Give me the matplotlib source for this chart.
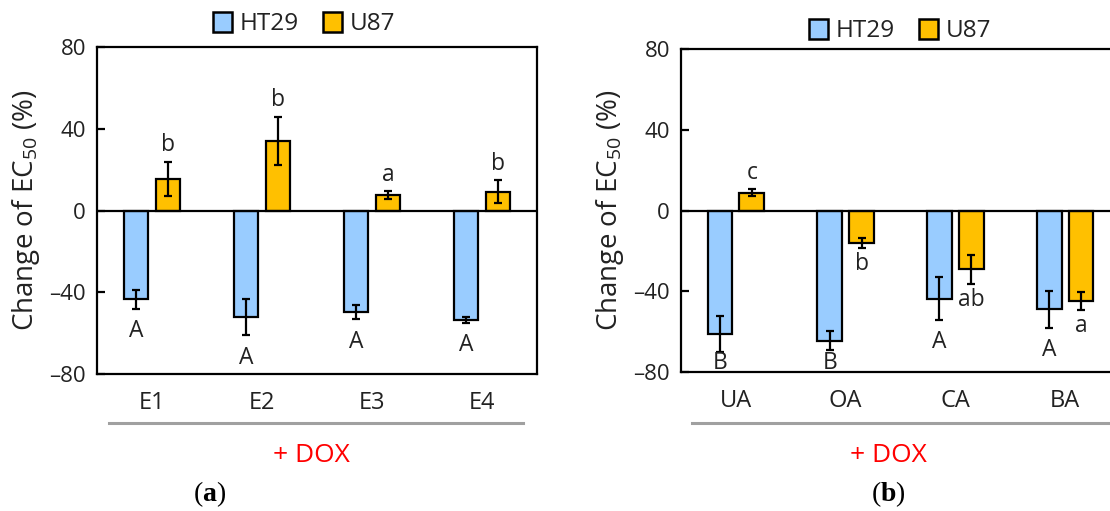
import matplotlib
matplotlib.use("Agg")
import matplotlib.pyplot as plt
import matplotlib.patches as mpatches
import numpy as np

plt.rcParams['font.family'] = ['Open Sans', 'DejaVu Sans']
plt.rcParams['mathtext.fontset'] = 'custom'
plt.rcParams['mathtext.rm'] = 'Open Sans'
plt.rcParams['mathtext.bf'] = 'Liberation Serif:bold'

# ---- data ----
cats_a = ["E1", "E2", "E3", "E4"]
ht29_a = [-43.4, -52.1, -49.7, -53.4]
ht29_a_err = [4.6, 9.0, 3.4, 1.5]
u87_a = [15.5, 34.0, 7.4, 9.2]
u87_a_err = [8.4, 11.9, 1.9, 5.6]
ht29_a_sig = ["A", "A", "A", "A"]
u87_a_sig = ["b", "b", "a", "b"]

cats_b = ["UA", "OA", "CA", "BA"]
ht29_b = [-61.4, -64.4, -43.6, -49.0]
ht29_b_err = [8.9, 4.5, 10.7, 9.1]
u87_b = [8.9, -16.0, -29.2, -44.9]
u87_b_err = [1.7, 2.6, 7.0, 4.5]
ht29_b_sig = ["B", "B", "A", "A"]
u87_b_sig = ["c", "b", "ab", "a"]

yticks = [-80, -40, 0, 40, 80]
series_names = ["HT29", "U87"]
colors = ["#99CCFF", "#FFC000"]

W, H = 1110, 511
fig = plt.figure(figsize=(W / 100, H / 100), dpi=100)
TXT = '#222222'


def px_axes(l, t, r, b):
    return fig.add_axes([l / W, 1 - b / H, (r - l) / W, (b - t) / H])


def draw_panel(ax, cats, v1, e1, v2, e2, s1, s2, right_open=False):
    x = np.arange(len(cats))
    off, wid = 0.145, 0.225
    for xs, vals, errs, col in [(x - off, v1, e1, colors[0]), (x + off, v2, e2, colors[1])]:
        ax.bar(xs, vals, width=wid, color=col, edgecolor='black', linewidth=1.6, zorder=3)
        ax.errorbar(xs, vals, yerr=errs, fmt='none', ecolor='black', elinewidth=1.6,
                    capsize=3.2, capthick=1.6, zorder=4)
    ax.axhline(0, color='black', linewidth=1.6, zorder=5)
    # significance letters
    for xs, vals, errs, sigs, dn in [(x - off, v1, e1, s1, 11.0), (x + off, v2, e2, s2, 8.0)]:
        for xi, v, e, s in zip(xs, vals, errs, sigs):
            if v >= 0:
                y = v + e + 8.0
            else:
                y = max(v - e - dn, -75.3)
            ax.text(xi, y, s, ha='center', va='center', fontsize=16.5, color=TXT, zorder=6)
    ax.set_xlim(-0.5, len(cats) - 0.5)
    ax.set_ylim(-80, 80)
    ax.set_yticks(yticks)
    ax.set_yticklabels([f"{t}".replace('-', '\u2013') for t in yticks])
    ax.set_xticks(x)
    ax.set_xticklabels(cats)
    ax.tick_params(axis='y', direction='in', length=6, width=1.6, labelsize=16,
                   pad=8, labelcolor=TXT)
    ax.tick_params(axis='x', length=0, labelsize=17, pad=12, labelcolor=TXT)
    for sp in ax.spines.values():
        sp.set_linewidth(1.6)
    if right_open:
        ax.spines['right'].set_visible(False)
    ax.set_ylabel(r"Change of EC$_{\mathrm{50}}$ (%)", fontsize=20, color=TXT, labelpad=5)


ax1 = px_axes(97, 47, 537, 374)
draw_panel(ax1, cats_a, ht29_a, ht29_a_err, u87_a, u87_a_err, ht29_a_sig, u87_a_sig)
ax2 = px_axes(681, 49, 1120, 372)
draw_panel(ax2, cats_b, ht29_b, ht29_b_err, u87_b, u87_b_err, ht29_b_sig, u87_b_sig, right_open=True)

# legends
handles = [mpatches.Patch(facecolor=c, edgecolor='black', linewidth=1.8) for c in colors]
for cx, cy in [(304, 24), (900, 31)]:
    fig.legend(handles, series_names, loc='center', bbox_to_anchor=(cx / W, 1 - cy / H),
               ncol=2, frameon=False, fontsize=17.5, handlelength=0.8, handleheight=0.9,
               handletextpad=0.3, columnspacing=1.0, borderpad=0, labelcolor=TXT)

# grey group lines and labels
for x0, x1, tx in [(109, 523, 311), (692, 1110, 888)]:
    fig.add_artist(plt.Line2D([x0 / W, x1 / W], [1 - 423 / H] * 2, color='#A0A0A0', linewidth=2.2))
    fig.text(tx / W, 1 - 455 / H, "+ DOX", color='#FF0000', fontsize=19, ha='center', va='center')

fig.text(210 / W, 1 - 494 / H, r"($\mathbf{a}$)", family='Liberation Serif', fontsize=20,
         ha='center', va='center')
fig.text(888 / W, 1 - 494 / H, r"($\mathbf{b}$)", family='Liberation Serif', fontsize=20,
         ha='center', va='center')

fig.savefig("out.png", dpi=100)
